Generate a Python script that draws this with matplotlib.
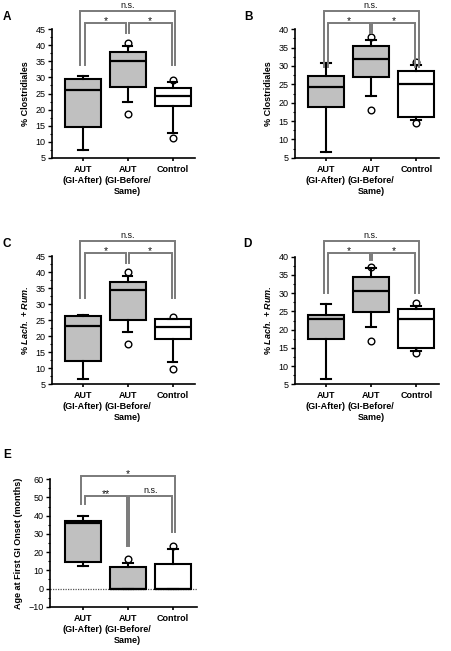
import matplotlib as mpl
mpl.use('Agg')
import matplotlib.pyplot as plt
from matplotlib.ticker import MultipleLocator

plt.rcParams['font.family'] = ['Liberation Sans', 'DejaVu Sans']
plt.rcParams['mathtext.fontset'] = 'custom'
plt.rcParams['mathtext.it'] = 'Liberation Sans:italic:bold'
plt.rcParams['mathtext.rm'] = 'Liberation Sans:bold'

# group labels and fills
groups = ['AUT\n(GI-After)', 'AUT\n(GI-Before/\nSame)', 'Control']
fills = ['#c0c0c0', '#c0c0c0', 'white']

# box stats: whisker low, q1, median, q3, whisker high
a_lo = [7.4, 22.5, 12.7]
a_q1 = [14.5, 27.0, 21.0]
a_med = [26.0, 35.0, 24.2]
a_q3 = [29.5, 38.0, 26.8]
a_hi = [30.4, 39.9, 28.7]
a_out = [[], [40.6, 18.6], [29.2, 11.0]]

b_lo = [6.5, 21.7, 15.3]
b_q1 = [18.7, 26.9, 16.2]
b_med = [24.4, 32.0, 25.0]
b_q3 = [27.3, 35.5, 28.7]
b_hi = [30.7, 37.1, 30.3]
b_out = [[], [37.8, 18.0], [31.0, 14.5]]

c_lo = [6.7, 21.4, 11.8]
c_q1 = [12.4, 25.2, 19.1]
c_med = [23.1, 34.4, 22.8]
c_q3 = [26.4, 36.8, 25.4]
c_hi = [26.7, 38.8, 25.5]
c_out = [[], [40.1, 17.6], [25.9, 9.7]]

d_lo = [6.5, 20.6, 14.2]
d_q1 = [17.3, 24.9, 15.0]
d_med = [22.8, 30.5, 22.9]
d_q3 = [24.0, 34.3, 25.6]
d_hi = [26.9, 36.8, 26.5]
d_out = [[], [37.3, 17.0], [27.2, 13.7]]

e_lo = [12.6, 0, 0]
e_q1 = [14.6, 0, 0]
e_med = [35.9, 0, 0]
e_q3 = [37.2, 12.0, 13.7]
e_hi = [39.9, 14.0, 21.8]
e_out = [[], [16.2], [23.5]]

# brackets: x1, x2, bar height, leg1 bottom, leg2 bottom, label
a_sig = [(1.05, 1.975, 46.9, 33.9, 43.8, '*'), (2.025, 2.98, 46.9, 43.8, 33.9, '*'),
         (0.95, 3.05, 50.7, 33.9, 33.9, 'n.s.')]
b_sig = [(1.05, 1.975, 41.6, 29.8, 38.9, '*'), (2.025, 2.98, 41.6, 38.9, 29.8, '*'),
         (0.95, 3.05, 45.0, 29.8, 29.8, 'n.s.')]
c_sig = [(1.05, 1.975, 45.8, 32.0, 42.9, '*'), (2.025, 2.98, 45.8, 42.9, 32.0, '*'),
         (0.95, 3.05, 49.7, 32.0, 32.0, 'n.s.')]
d_sig = [(1.05, 1.975, 40.9, 30.1, 39.1, '*'), (2.025, 2.98, 40.9, 39.1, 30.1, '*'),
         (0.95, 3.05, 44.3, 30.1, 30.1, 'n.s.')]
e_sig = [(1.05, 1.975, 50.8, 46.3, 23.5, '**'), (2.025, 2.98, 50.8, 23.5, 31.3, 'n.s.'),
         (0.95, 3.05, 61.7, 46.3, 31.3, '*')]

W, H = 452, 651
fig = plt.figure(figsize=(W / 100, H / 100), dpi=100)


def make_axes(left, top, right, bottom):
    return fig.add_axes([left / W, 1 - bottom / H, (right - left) / W, (bottom - top) / H])


def panel(ax, lo, q1, med, q3, hi, out, sig, ylim, ystep, ylabel, xlim=(0.32, 3.5)):
    stats = []
    for i in range(3):
        stats.append(dict(whislo=lo[i], q1=q1[i], med=med[i], q3=q3[i], whishi=hi[i], fliers=out[i]))
    bp = ax.bxp(stats, positions=[1, 2, 3], widths=0.8, capwidths=0.22, patch_artist=True,
                boxprops=dict(linewidth=1.5, edgecolor='black'),
                medianprops=dict(color='black', linewidth=1.6),
                whiskerprops=dict(linewidth=1.5, color='black'),
                capprops=dict(linewidth=1.5, color='black'),
                flierprops=dict(marker='o', markersize=4.8, markerfacecolor='white',
                                markeredgecolor='black', markeredgewidth=1.0))
    for patch, fc in zip(bp['boxes'], fills):
        patch.set_facecolor(fc)
    for fl in bp['fliers']:
        fl.set_zorder(1.5)

    for x1, x2, yb, y1, y2, lab in sig:
        ax.plot([x1, x1, x2, x2], [y1, yb, yb, y2], color='#7a7a7a', lw=1.4, clip_on=False,
                solid_joinstyle='miter')
        if '*' in lab:
            off, fs = -0.5, 7.5
        else:
            off, fs = 2.4, 6.5
        ax.annotate(lab, xy=((x1 + x2) / 2, yb), xytext=(0, off), textcoords='offset points',
                    ha='center', va='baseline', fontsize=fs, color='#111111',
                    annotation_clip=False)

    ax.set_xlim(*xlim)
    ax.set_ylim(*ylim)
    ax.yaxis.set_major_locator(MultipleLocator(ystep))
    ax.yaxis.set_minor_locator(MultipleLocator(ystep / 2))
    ax.set_xticks([1, 2, 3])
    ax.set_xticklabels(groups, fontsize=6.5, fontweight='bold', linespacing=1.3)
    ax.tick_params(axis='x', length=2, width=1.2, pad=3)
    ax.tick_params(axis='y', which='major', length=3, width=1, labelsize=6.5, pad=1.5)
    ax.tick_params(axis='y', which='minor', length=1.5, width=0.8)
    for s in ['top', 'right']:
        ax.spines[s].set_visible(False)
    for s in ['left', 'bottom']:
        ax.spines[s].set_linewidth(1.2)
    ax.set_ylabel(ylabel, fontsize=6.5, fontweight='bold', labelpad=4)


ax_a = make_axes(52, 29.3, 195, 157.7)
panel(ax_a, a_lo, a_q1, a_med, a_q3, a_hi, a_out, a_sig, (5, 45), 5, '% Clostridiales')

ax_b = make_axes(295, 29.3, 439, 157.7)
panel(ax_b, b_lo, b_q1, b_med, b_q3, b_hi, b_out, b_sig, (5, 40), 5, '% Clostridiales')

lach = r'% $\mathit{Lach.}$ + $\mathit{Rum.}$'
ax_c = make_axes(52, 256, 195, 384.3)
panel(ax_c, c_lo, c_q1, c_med, c_q3, c_hi, c_out, c_sig, (5, 45), 5, lach)

ax_d = make_axes(295, 256.7, 439, 384.3)
panel(ax_d, d_lo, d_q1, d_med, d_q3, d_hi, d_out, d_sig, (5, 40), 5, lach)

ax_e = make_axes(50, 479.3, 197, 606.7)
panel(ax_e, e_lo, e_q1, e_med, e_q3, e_hi, e_out, e_sig, (-10, 60), 10,
      'Age at First GI Onset (months)', xlim=(0.27, 3.54))
ax_e.axhline(0, color='#555555', lw=0.9, ls=(0, (1, 1)), zorder=0.5)

for lab, x, y in [('A', 3, 20), ('B', 244, 20), ('C', 3, 247), ('D', 243, 247), ('E', 3, 458)]:
    fig.text(x / W, 1 - y / H, lab, fontsize=8.5, fontweight='bold', va='baseline')

fig.savefig('out.png', dpi=100)
